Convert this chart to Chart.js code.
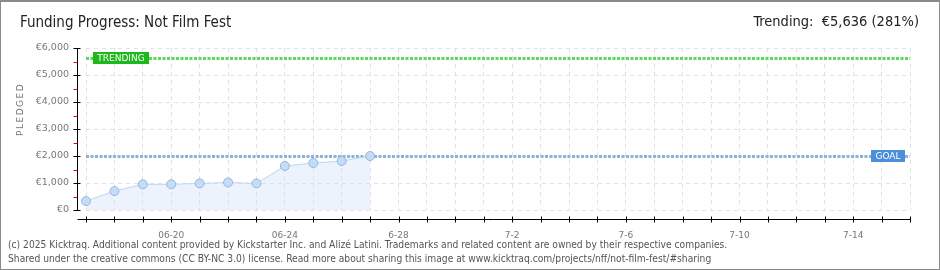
<!DOCTYPE html>
<html>
<head>
<meta charset="utf-8">
<script src="https://cdn.jsdelivr.net/npm/chart.js@4"></script>
<style>
  html, body { margin: 0; padding: 0; background: #fff; }
  #wrap { position: relative; width: 940px; height: 270px; box-sizing: border-box; border: 1px solid #8a8a8a; border-top-width: 2px; overflow: hidden; }
  canvas { position: absolute; left: -1px; top: -2px; }
  .txt { position: absolute; font-family: "Liberation Sans Narrow", "DejaVu Sans Condensed", sans-serif; white-space: nowrap; }
  #title { left: 19px; top: 11px; font-size: 15px; color: #222; }
  #trend { right: 20px; top: 11px; font-size: 14.5px; color: #222; }
  #ylab { left: 14px; top: 134px; font-size: 9px; color: #777; letter-spacing: 1.5px; transform: rotate(-90deg); transform-origin: 0 0; font-family: "DejaVu Sans", sans-serif; }
  #foot { left: 7px; top: 236px; font-size: 10.2px; color: #555; line-height: 13.5px; }
</style>
</head>
<body>
<div id="wrap">
  <canvas id="chart" width="940" height="270"></canvas>
  <div class="txt" id="title">Funding Progress: Not Film Fest</div>
  <div class="txt" id="trend">Trending: &nbsp;€5,636 (281%)</div>
  <div class="txt" id="ylab">PLEDGED</div>
  <div class="txt" id="foot">(c) 2025 Kicktraq. Additional content provided by Kickstarter Inc. and Alizé Latini. Trademarks and related content are owned by their respective companies.<br>Shared under the creative commons (CC BY-NC 3.0) license. Read more about sharing this image at www.kicktraq.com/projects/nff/not-film-fest/#sharing</div>
</div>
<script>
// 日付ラベル（06-17 から 7-16 まで）
const days = ['06-17','06-18','06-19','06-20','06-21','06-22','06-23','06-24','06-25','06-26','06-27',
  '6-28','6-29','6-30','7-1','7-2','7-3','7-4','7-5','7-6','7-7','7-8','7-9','7-10','7-11','7-12','7-13','7-14','7-15','7-16'];
const shownLabels = ['06-20','06-24','6-28','7-2','7-6','7-10','7-14'];
// 累計支援額
const pledged = [330, 700, 950, 950, 985, 1020, 985, 1630, 1740, 1815, 2000];
const goal = 2000;
const trending = 5636;
const yTicks = [0, 1000, 2000, 3000, 4000, 5000, 6000];

const ctx = document.getElementById('chart').getContext('2d');

// 軸・目標線・トレンド線を描くプラグイン
const overlay = {
  id: 'overlay',
  beforeDatasetsDraw(chart) {
    const c = chart.ctx, y = chart.scales.y, a = chart.chartArea;
    function hline(v, color) {
      const py = Math.round(y.getPixelForValue(v)) + 0.5;
      c.save();
      c.strokeStyle = color;
      c.lineWidth = 3;
      c.setLineDash([3, 1.5]);
      c.beginPath(); c.moveTo(a.left, py); c.lineTo(a.right, py); c.stroke();
      c.restore();
    }
    hline(trending, '#5fd65f');
    hline(goal, '#8fb2dd');
  },
  afterDraw(chart) {
    const c = chart.ctx, y = chart.scales.y, x = chart.scales.x, a = chart.chartArea;
    c.save();
    // y axis
    const ax = a.left - 8.5;
    c.strokeStyle = '#000'; c.lineWidth = 1;
    c.beginPath(); c.moveTo(ax, y.getPixelForValue(6000)); c.lineTo(ax, a.bottom + 1); c.stroke();
    yTicks.forEach(v => {
      const py = Math.round(y.getPixelForValue(v)) + 0.5;
      c.beginPath(); c.moveTo(ax - 4, py); c.lineTo(ax + 3, py); c.stroke();
    });
    c.strokeStyle = '#e00';
    for (let v = 500; v < 6000; v += 1000) {
      const py = Math.round(y.getPixelForValue(v)) + 0.5;
      c.beginPath(); c.moveTo(ax - 4, py); c.lineTo(ax, py); c.stroke();
    }
    // x axis
    const ay = a.bottom + 9.5;
    c.strokeStyle = '#000';
    c.beginPath(); c.moveTo(ax, ay); c.lineTo(a.right, ay); c.stroke();
    days.forEach((d, i) => {
      const px = Math.round(x.getPixelForValue(i)) + 0.5;
      c.beginPath(); c.moveTo(px, ay - 3); c.lineTo(px, ay + 3); c.stroke();
    });
    // labels
    function tag(text, v, left, w, color) {
      const py = Math.round(y.getPixelForValue(v));
      c.fillStyle = color;
      c.fillRect(left, py - 6, w, 12);
      c.fillStyle = '#fff';
      c.font = '9px "DejaVu Sans", sans-serif';
      c.textBaseline = 'middle';
      c.textAlign = 'center';
      c.fillText(text, left + w / 2, py + 0.5);
    }
    tag('TRENDING', trending, 93, 56, '#1cb81c');
    tag('GOAL', goal, 871, 34, '#4a8fd8');
    c.restore();
  }
};

new Chart(ctx, {
  type: 'line',
  data: {
    labels: days,
    datasets: [{
      data: pledged,
      borderColor: '#bcd6f2',
      borderWidth: 1,
      backgroundColor: 'rgba(200, 222, 246, 0.35)',
      fill: 'origin',
      tension: 0,
      pointRadius: 4.5,
      pointBackgroundColor: '#c4dcf6',
      pointBorderColor: '#95b6de',
      pointBorderWidth: 1
    }]
  },
  options: {
    responsive: false,
    animation: false,
    layout: { padding: { top: 48, right: 30, left: 0, bottom: 0 } },
    plugins: { legend: { display: false }, tooltip: { enabled: false } },
    scales: {
      x: {
        offset: false,
        afterFit: s => { s.height = 60; },
        grid: { color: '#e2e2e2', drawTicks: false },
        border: { display: false, dash: [4, 4] },
        ticks: {
          autoSkip: false,
          maxRotation: 0,
          padding: 20,
          color: '#777',
          font: { family: '"DejaVu Sans", sans-serif', size: 9 },
          callback: function (v) {
            const l = days[v];
            return shownLabels.includes(l) ? l : '';
          }
        }
      },
      y: {
        min: 0,
        max: 6000,
        afterFit: s => { s.width = 86; },
        afterBuildTicks: s => { s.ticks = yTicks.map(v => ({ value: v })); },
        grid: { color: '#e2e2e2', drawTicks: false },
        border: { display: false, dash: [4, 4] },
        ticks: {
          padding: 17,
          color: '#777',
          font: { family: '"DejaVu Sans", sans-serif', size: 9.5 },
          callback: v => '€' + v.toLocaleString('en-US')
        }
      }
    }
  },
  plugins: [overlay]
});
</script>
</body>
</html>
